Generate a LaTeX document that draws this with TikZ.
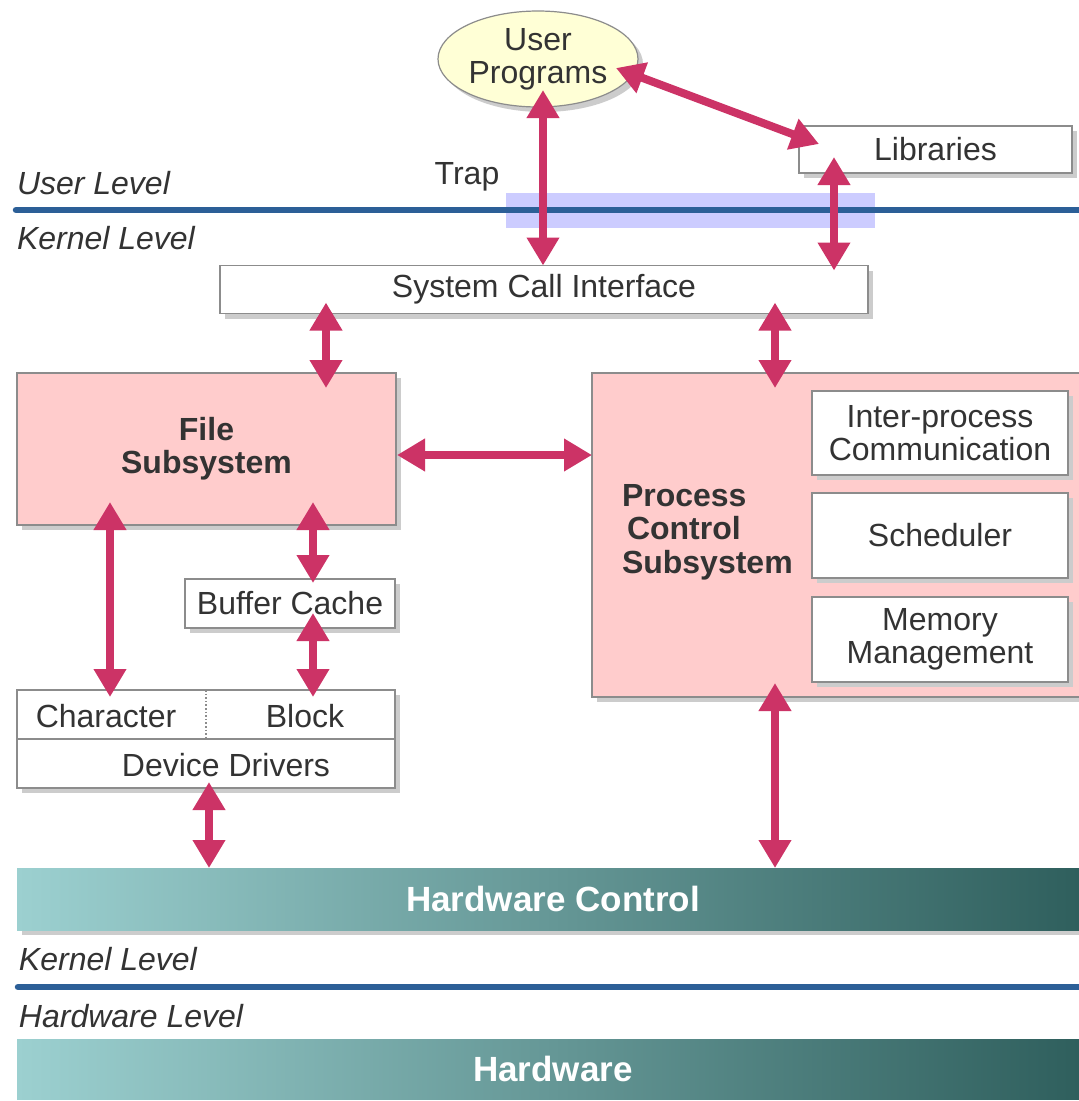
\documentclass[tikz,border=0pt]{standalone}
\usepackage{fontspec}
\setmainfont{Liberation Sans}
\usetikzlibrary{arrows.meta,shapes.geometric,shadows,calc}
\definecolor{arrc}{HTML}{CC3366}
\definecolor{pinkf}{HTML}{FFCCCC}
\definecolor{bordc}{HTML}{8C8C8C}
\definecolor{txtc}{HTML}{333333}
\definecolor{lvl}{HTML}{2C5F97}
\definecolor{trapc}{HTML}{CCCCFF}
\definecolor{ylw}{HTML}{FFFFD6}
\definecolor{hcl}{HTML}{9CD0D0}
\definecolor{hcr}{HTML}{2E5E5C}
\begin{document}
\begin{tikzpicture}[x=1pt,y=-1pt,
  every node/.style={text=txtc, font=\fontsize{32}{33}\selectfont, inner sep=0pt, outer sep=0pt},
  shad/.style={drop shadow={shadow xshift=5pt, shadow yshift=-5pt, fill=black!20, opacity=1}},
  box/.style={draw=bordc, line width=1.2pt, fill=white, shad},
  pbox/.style={draw=bordc, line width=1.2pt, fill=pinkf, shad},
  bar/.style={left color=hcl, right color=hcr, text=white, font=\fontsize{35}{36}\selectfont\bfseries},
  arr/.style={draw=arrc, line width=8pt, {Triangle[length=28pt,width=31pt]}-{Triangle[length=28pt,width=31pt]}},
  lvltxt/.style={font=\fontsize{32}{33}\selectfont\itshape, anchor=west},
  lvlline/.style={draw=lvl, line width=6.5pt, line cap=round}]
\useasboundingbox (0,0) rectangle (1079,1101);
\fill[white] (0,0) rectangle (1079,1101);

% level separators
\fill[trapc] (506,193) rectangle (875,228);
\draw[lvlline] (16,210) -- (1090,210);
\draw[lvlline] (18,987) -- (1090,987);
\node[lvltxt] (ul) at (17,183) {User Level};
\node[lvltxt] (kl1) at (17,238) {Kernel Level};
\node[lvltxt] (kl2) at (19,959) {Kernel Level};
\node[lvltxt] (hl) at (19,1016) {Hardware Level};
\node (trap) at (467,177) {Trap};

% nodes
\node[ellipse, draw=bordc, line width=1.2pt, fill=ylw, shad, minimum width=200, minimum height=96, align=center] (up) at (538,59) {User\\Programs};
\node[box, minimum width=273, minimum height=47] (lib) at (935.5,149.5) {Libraries};
\node[box, minimum width=648, minimum height=48] (sci) at (544,289.5) {System Call Interface};
\node[pbox, minimum width=379, minimum height=152, align=center, font=\fontsize{32}{33}\selectfont\bfseries] (fs) at (206.5,449) {File\\Subsystem};
\node[pbox, minimum width=498, minimum height=324] (pcs) at (841,535) {};
\node[font=\fontsize{32}{33.5}\selectfont\bfseries, align=left, anchor=west] (pcst) at (622,532) {Process\\\hspace*{5pt}Control\\Subsystem};
\node[box, minimum width=256, minimum height=84, align=center] (ipc) at (940,433) {Inter-process\\Communication};
\node[box, minimum width=256, minimum height=85] (sch) at (940,535.5) {Scheduler};
\node[box, minimum width=256, minimum height=85, align=center] (mem) at (940,639.5) {Memory\\Management};
\node[box, minimum width=210, minimum height=49] (bc) at (290,603.5) {Buffer Cache};
\node[box, minimum width=378, minimum height=98] (dd) at (206,739) {};
\coordinate (ymid) at (0,739);
\coordinate (xdiv) at (206,0);
\draw[bordc, line width=1.2pt] (dd.west |- ymid) -- (dd.east |- ymid);
\draw[bordc, dotted, line width=1.6pt] (xdiv |- dd.north) -- (xdiv |- ymid);
\node (chr) at (106,716) {Character};
\node (blk) at (305,716) {Block};
\node (ddt) at (226,765) {Device Drivers};
\node[bar, shad, minimum width=1072, minimum height=62] (hc) at (553,899) {Hardware Control};
\node[bar, minimum width=1072, minimum height=60] (hw) at (553,1069) {Hardware};

% connectors
\coordinate (x543) at (543,0);
\coordinate (x834) at (834,0);
\coordinate (x326) at (326,0);
\coordinate (x775) at (775,0);
\coordinate (x110) at (110,0);
\coordinate (x313) at (313,0);
\coordinate (x209) at (209,0);
\coordinate (y455) at (0,455);
\draw[arr] ($(x543 |- up.south)+(0,-17)$) -- (x543 |- sci.north);
\draw[arr] ($(up.east)+(-22,9)$) -- ($(lib.north west)+(20,18)$);
\draw[arr] ($(x834 |- lib.south)+(0,-16)$) -- ($(x834 |- sci.north)+(0,5)$);
\draw[arr] ($(x326 |- sci.south)+(0,-11)$) -- ($(x326 |- fs.north)+(0,15)$);
\draw[arr] ($(x775 |- sci.south)+(0,-11)$) -- ($(x775 |- pcs.north)+(0,15)$);
\draw[arr] ($(fs.east |- y455)+(1,0)$) -- (pcs.west |- y455);
\draw[arr] ($(x110 |- fs.south)+(0,-23)$) -- ($(x110 |- dd.north)+(0,7)$);
\draw[arr] ($(x313 |- fs.south)+(0,-23)$) -- ($(x313 |- bc.north)+(0,4)$);
\draw[arr] ($(x313 |- bc.south)+(0,-15)$) -- ($(x313 |- dd.north)+(0,7)$);
\draw[arr] ($(x209 |- dd.south)+(0,-6)$) -- (x209 |- hc.north);
\draw[arr] ($(x775 |- pcs.south)+(0,-14)$) -- (x775 |- hc.north);
\end{tikzpicture}
\end{document}
